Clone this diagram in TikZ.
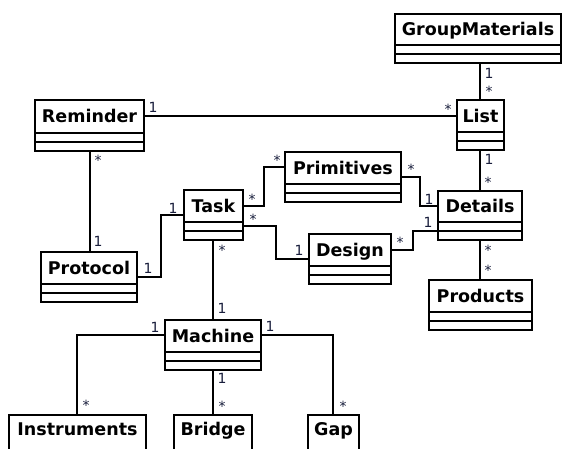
\documentclass[tikz,border=0pt]{standalone}
\usepackage{fontspec}
\setmainfont{DejaVu Sans}
\usetikzlibrary{fit}
\definecolor{mulcol}{RGB}{25,30,60}
\newcommand\umlcls[6]{%
  \node[cls, fit={(#3,#4) (#5,#6)}] (#1) {};
  \draw ({#3},{#6-18}) -- ({#5},{#6-18});
  \draw ({#3},{#6-9}) -- ({#5},{#6-9});
  \node[ttl] (#1-t) at ({(#3+#5)/2},{(#4+#6-18)/2+6.4}) {#2};
}
\newcommand\umlopen[6]{%
  \node[cls, fit={(#3,#4) (#5,#6)}] (#1) {};
  \node[ttl] (#1-t) at ({(#3+#5)/2},{#4+14+6.4}) {#2};
}
\begin{document}
\begin{tikzpicture}[x=1pt,y=-1pt,line width=2pt,
  cls/.style={draw, rectangle, inner sep=0pt},
  ttl/.style={font=\fontsize{17.5}{20}\selectfont\bfseries, inner sep=0pt, anchor=base},
  one/.style={font=\fontsize{14}{16}\selectfont, text=mulcol, inner sep=0pt},
  many/.style={font=\fontsize{14}{16}\selectfont, text=mulcol, inner sep=0pt, yshift=-2pt},
  conn/.style={draw, line width=2pt}]
\useasboundingbox (0,0) rectangle (562,448);
\clip (0,0) rectangle (562,448);

\umlcls{gm}{GroupMaterials}{395}{14}{561}{63}
\umlcls{list}{List}{457}{100}{504}{150}
\umlcls{reminder}{Reminder}{35}{100}{144}{151}
\umlcls{protocol}{Protocol}{41}{252}{137}{302}
\umlcls{task}{Task}{184}{190}{243}{240}
\umlcls{primitives}{Primitives}{285}{152}{401}{202}
\umlcls{details}{Details}{438}{191}{522}{240}
\umlcls{design}{Design}{309}{234}{391}{284}
\umlcls{products}{Products}{429}{280}{532}{330}
\umlcls{machine}{Machine}{165}{320}{261}{370}
\umlopen{instruments}{Instruments}{9}{415}{146}{470}
\umlopen{bridge}{Bridge}{174}{415}{252}{470}
\umlopen{gap}{Gap}{308}{415}{359}{470}

% connectors
\draw[conn] (gm.south -| 480,0) -- (list.north -| 480,0);
\draw[conn] (reminder.east |- 0,116) -- (list.west |- 0,116);
\draw[conn] (reminder.south -| 90,0) -- (protocol.north -| 90,0);
\draw[conn] (list.south -| 480,0) -- (details.north -| 480,0);
\draw[conn] (protocol.east) -- (161,277) -- (161,215) -- (task.west);
\draw[conn] (task.east |- 0,206) -- (264,206) -- (264,167) -- (primitives.west |- 0,167);
\draw[conn] (task.east |- 0,226) -- (276,226) -- (276,259) -- (design.west);
\draw[conn] (primitives.east |- 0,177) -- (420,177) -- (420,206) -- (details.west |- 0,206);
\draw[conn] (design.east |- 0,250) -- (413,250) -- (413,231) -- (details.west |- 0,231);
\draw[conn] (details.south -| 480,0) -- (products.north -| 480,0);
\draw[conn] (task.south -| 213,0) -- (machine.north -| 213,0);
\draw[conn] (machine.west |- 0,335) -- (77,335) -- (instruments.north -| 77,0);
\draw[conn] (machine.south -| 213,0) -- (bridge.north -| 213,0);
\draw[conn] (machine.east |- 0,335) -- (333,335) -- (gap.north -| 333,0);

% multiplicities
\node[one] (m1) at (489,73) {1};
\node[many] (m2) at (489,89) {*};
\node[many] (m3) at (448,107) {*};
\node[one] (m4) at (153,107) {1};
\node[many] (m5) at (98,158) {*};
\node[one] (m6) at (98,241) {1};
\node[one] (m7) at (489,159) {1};
\node[many] (m8) at (488,180) {*};
\node[one] (m9) at (148,268) {1};
\node[one] (m10) at (173,208) {1};
\node[many] (m11) at (252,197) {*};
\node[many] (m12) at (277,158) {*};
\node[many] (m13) at (253,217) {*};
\node[one] (m14) at (299,250) {1};
\node[many] (m15) at (411,167) {*};
\node[one] (m16) at (429,199) {1};
\node[many] (m17) at (400,240) {*};
\node[one] (m18) at (428,222) {1};
\node[many] (m19) at (488,248) {*};
\node[many] (m20) at (488,268) {*};
\node[many] (m21) at (222,248) {*};
\node[one] (m22) at (222,308) {1};
\node[one] (m23) at (155,327) {1};
\node[one] (m24) at (270,326) {1};
\node[one] (m25) at (222,378) {1};
\node[many] (m26) at (222,404) {*};
\node[many] (m27) at (86,403) {*};
\node[many] (m28) at (343,404) {*};
\end{tikzpicture}
\end{document}
